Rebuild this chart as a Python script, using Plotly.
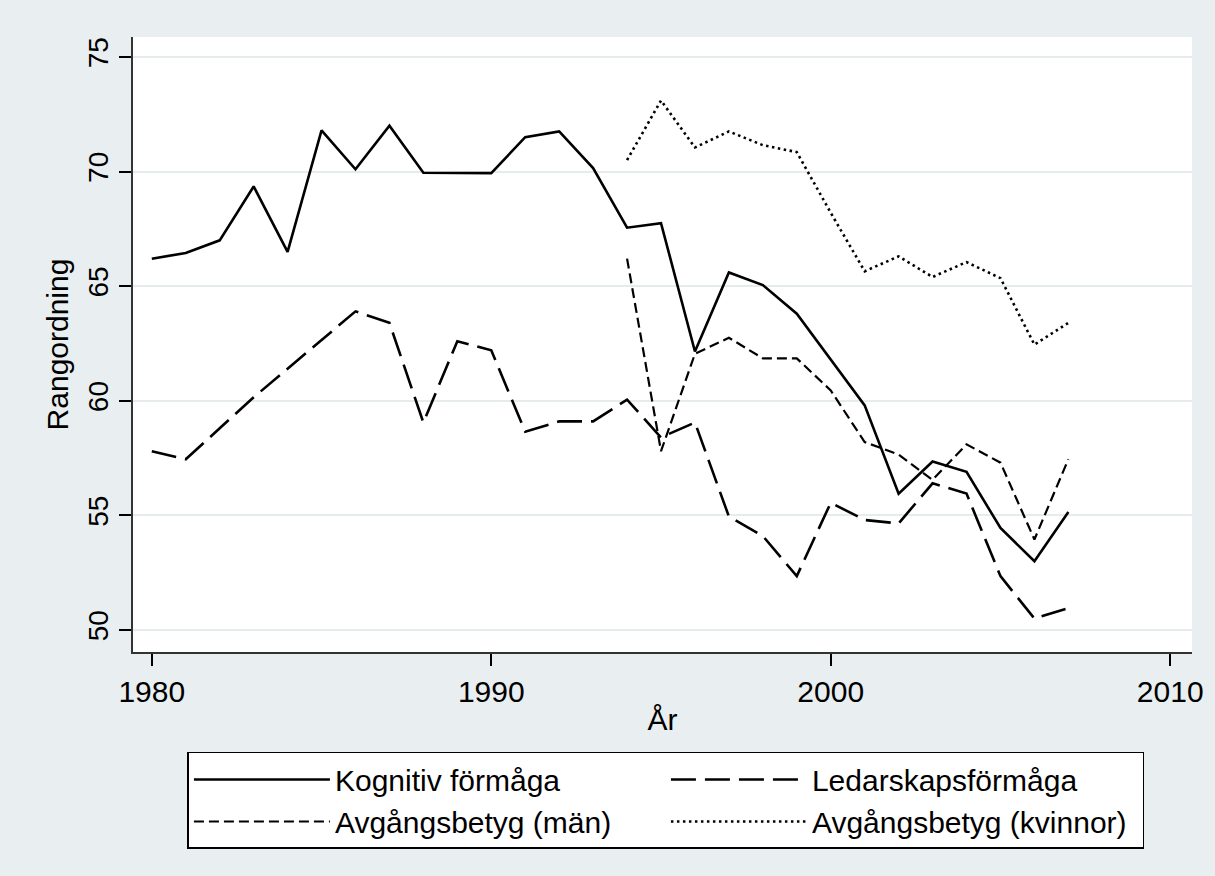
import plotly.graph_objects as go

years = list(range(1980, 2008))
years_betyg = list(range(1994, 2008))

kognitiv = [66.2, 66.45, 67.0, 69.35, 66.5, 71.8, 70.1, 72.0, 69.95, 69.95,
            69.93, 71.5, 71.75, 70.15, 67.55, 67.75, 62.15, 65.6, 65.05, 63.8,
            61.8, 59.8, 55.95, 57.35, 56.9, 54.45, 53.0, 55.15]
ledarskap = [57.8, 57.45, 58.8, 60.15, 61.4, 62.65, 63.9, 63.4, 59.05, 62.6,
             62.2, 58.65, 59.1, 59.1, 60.05, 58.4, 59.05, 54.95, 54.1, 52.35,
             55.55, 54.8, 54.65, 56.4, 55.95, 52.35, 50.5, 50.95]
betyg_man = [66.2, 57.8, 62.05, 62.75, 61.85, 61.85, 60.45, 58.2, 57.65, 56.55,
             58.1, 57.3, 53.95, 57.45]
betyg_kvinnor = [70.5, 73.1, 71.05, 71.75, 71.15, 70.85, 68.2, 65.65, 66.3, 65.4,
                 66.05, 65.35, 62.45, 63.4]

names = ["Kognitiv förmåga", "Ledarskapsförmåga", "Avgångsbetyg (män)", "Avgångsbetyg (kvinnor)"]
x_ticks = [1980, 1990, 2000, 2010]
y_ticks = [50, 55, 60, 65, 70, 75]

FONT = "Arial, Liberation Sans, sans-serif"
BG = "#E9EEF0"

fig = go.Figure()
fig.add_trace(go.Scatter(x=years, y=kognitiv, mode="lines", name=names[0],
                         line=dict(color="black", width=2.6, dash="solid")))
fig.add_trace(go.Scatter(x=years, y=ledarskap, mode="lines", name=names[1],
                         line=dict(color="black", width=2.6, dash="25px,9px")))
fig.add_trace(go.Scatter(x=years_betyg, y=betyg_man, mode="lines", name=names[2],
                         line=dict(color="black", width=2.2, dash="10px,5px")))
fig.add_trace(go.Scatter(x=years_betyg, y=betyg_kvinnor, mode="lines", name=names[3],
                         line=dict(color="black", width=2.6, dash="2.5px,3.5px")))

fig.update_layout(
    width=1215, height=876,
    margin=dict(l=133, r=13, t=37, b=224),
    paper_bgcolor=BG, plot_bgcolor="white",
    font=dict(family=FONT, size=30, color="black"),
    showlegend=True,
    legend=dict(
        orientation="h", x=0.0514, xanchor="left", y=-0.1626, yanchor="top",
        bgcolor="white", bordercolor="black", borderwidth=1.5,
        itemwidth=136, entrywidth=326, entrywidthmode="pixels",
        font=dict(family=FONT, size=30, color="black"),
        itemclick=False, itemdoubleclick=False,
    ),
)
fig.update_xaxes(
    range=[1979.446, 2010.642], tickvals=x_ticks, ticks="outside", ticklen=12,
    tickcolor="black", tickwidth=1.5, showline=True, linecolor="#333333", linewidth=1.5,
    showgrid=False, zeroline=False, tickfont=dict(size=30, family=FONT),
    title=dict(text="År", font=dict(size=30, family=FONT), standoff=2),
)
fig.update_yaxes(
    range=[49.04, 75.87], tickvals=y_ticks, ticks="outside", ticklen=12,
    tickcolor="black", tickwidth=1.5, showline=True, linecolor="#333333", linewidth=1.5,
    showgrid=True, gridcolor="#E6ECEE", gridwidth=2, zeroline=False,
    tickangle=-90, tickfont=dict(size=28, family=FONT),
    title=dict(text="Rangordning", font=dict(size=30, family=FONT), standoff=6),
)

fig.write_html(
    "out.html",
    config={"displayModeBar": False},
    post_script="document.body.style.margin='0';document.body.style.background='" + BG + "';",
)
